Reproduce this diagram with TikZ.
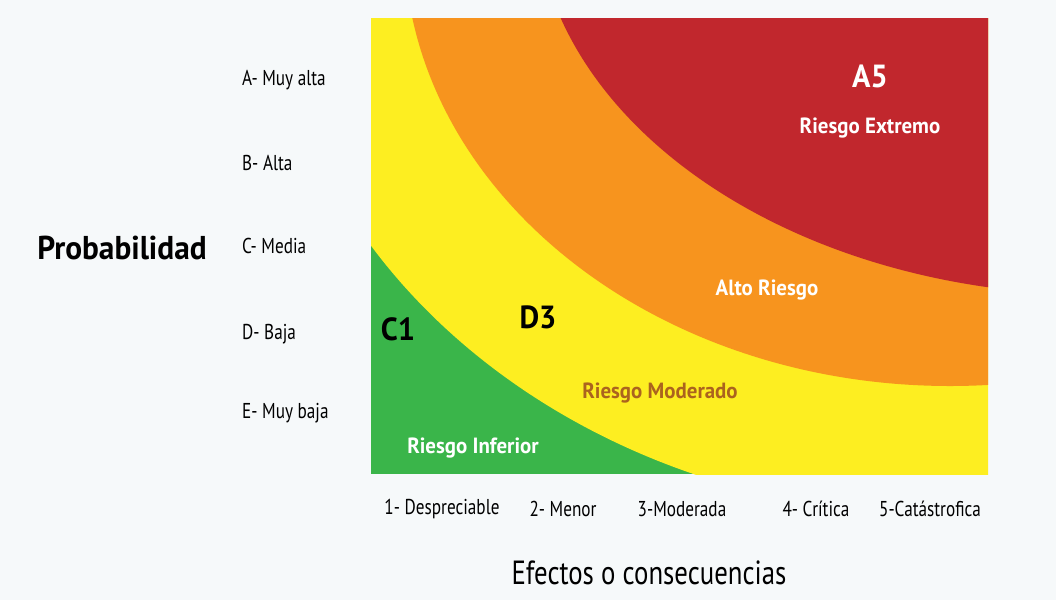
\documentclass[tikz,border=0pt]{standalone}
\usepackage{fontspec}
\setmainfont{PT Sans}[FakeStretch=0.8, BoldFeatures={FakeStretch=0.95}]
\usetikzlibrary{positioning}

\definecolor{bgcol}{HTML}{F6F9FA}
\definecolor{riskgreen}{HTML}{3AB54A}
\definecolor{riskyellow}{HTML}{FDEE21}
\definecolor{riskorange}{HTML}{F7941E}
\definecolor{riskred}{HTML}{C1272D}
\definecolor{modbrown}{HTML}{AB631E}

\begin{document}
\begin{tikzpicture}[
  x=1pt, y=-1pt,
  axtick/.style={inner sep=0pt, font=\fontsize{21.5}{25}\selectfont},
  axtitle/.style={inner sep=0pt, font=\fontsize{33.5}{40}\selectfont},
  zone/.style={inner sep=0pt, font=\bfseries\fontsize{22}{26}\selectfont},
  cell/.style={inner sep=0pt, font=\bfseries\fontsize{32}{38}\selectfont}
]
  \fill[bgcol] (0,0) rectangle (1056,600);
  \useasboundingbox (0,0) rectangle (1056,600);

  % risk zones
  \begin{scope}
    \clip (371,18) rectangle (988,474);
    \fill[riskgreen] (371,18) rectangle (988,474);
    \fill[riskyellow] (950,-60) ellipse [x radius=683, y radius=576];
    \fill[riskorange] (950,-60) ellipse [x radius=546, y radius=446];
    \fill[riskred] (1100,-100) ellipse [x radius=565, y radius=395];
  \end{scope}

  % probability axis
  \node[axtitle, font=\bfseries\fontsize{33}{40}\selectfont] (prob) at (122,248) {Probabilidad};
  \node[axtick, anchor=west] (rowA) at (242,80) {A- Muy alta};
  \node[axtick, anchor=west] (rowB) at (242,163) {B- Alta};
  \node[axtick, anchor=west] (rowC) at (242,246) {C- Media};
  \node[axtick, anchor=west] (rowD) at (242,334) {D- Baja};
  \node[axtick, anchor=west] (rowE) at (242,413) {E- Muy baja};

  % consequence axis
  \node[axtick] (col1) at (442,509) {1- Despreciable};
  \node[axtick] (col2) at (563,509) {2- Menor};
  \node[axtick] (col3) at (682,509) {3-Moderada};
  \node[axtick] (col4) at (816,509) {4- Crítica};
  \node[axtick] (col5) at (930,509) {5-Catástrofica};
  \node[axtitle] (efectos) at (649,573) {Efectos o consecuencias};

  % zone labels
  \node[cell, white] (a5) at (870,76) {A5};
  \node[zone, white] (extremo) at (870,128) {Riesgo Extremo};
  \node[zone, white] (alto) at (767,290) {Alto Riesgo};
  \node[cell] (d3) at (538,317) {D3};
  \node[cell] (c1) at (398,329) {C1};
  \node[zone, modbrown] (moderado) at (660,393) {Riesgo Moderado};
  \node[zone, white] (inferior) at (473,448) {Riesgo Inferior};
\end{tikzpicture}
\end{document}
